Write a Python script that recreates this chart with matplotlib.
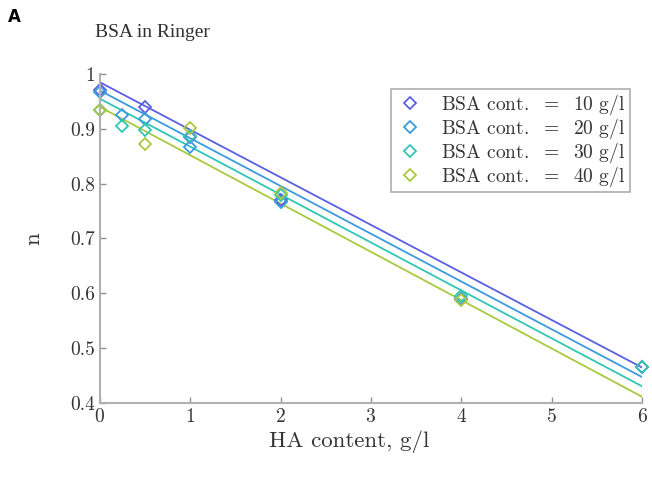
import numpy as np
from matplotlib import pyplot as plt

plt.rcParams['font.family'] = 'serif'
plt.rcParams['font.serif'] = ['cmr10', 'DejaVu Serif']
plt.rcParams['mathtext.fontset'] = 'cm'
plt.rcParams['axes.formatter.use_mathtext'] = True

# BSA concentrations (g/l) and their colours
bsa = [10, 20, 30, 40]
colors = ['#5b5fe3', '#3a9be0', '#2fc6b5', '#a9c93e']

# measured points, HA content (g/l) vs n
ha_10 = [0, 0.5, 1, 2, 4, 6]
n_10 = [0.970, 0.940, 0.885, 0.770, 0.590, 0.465]
ha_20 = [0, 0.25, 0.5, 1, 2, 4]
n_20 = [0.968, 0.925, 0.918, 0.866, 0.766, 0.590]
ha_30 = [0, 0.25, 0.5, 1, 2, 4, 6]
n_30 = [0.935, 0.905, 0.898, 0.886, 0.780, 0.595, 0.465]
ha_40 = [0, 0.5, 1, 2, 4]
n_40 = [0.935, 0.872, 0.902, 0.783, 0.587]

# fitted lines: n = a + b * HA
fit_a = [0.985, 0.970, 0.955, 0.940]
fit_b = [-0.0868, -0.0872, -0.0875, -0.0882]

xs = [ha_10, ha_20, ha_30, ha_40]
ys = [n_10, n_20, n_30, n_40]

fig = plt.figure(figsize=(6.52, 4.9), dpi=100)
ax = fig.add_axes([0.153, 0.178, 0.832, 0.671])

xl = np.array([0, 6])
for i in range(len(bsa)):
    ax.plot(xl, fit_a[i] + fit_b[i] * xl, color=colors[i], lw=1.3)
for i in range(len(bsa)):
    ax.plot(xs[i], ys[i], 'D', mfc='none', mec=colors[i], ms=6.5, mew=1.3,
            label=r"BSA cont. $\;=\;$ {} g/l".format(bsa[i]), clip_on=False)

ax.set_xlim(0, 6)
ax.set_ylim(0.4, 1)
ax.set_xticks(range(0, 7))
ax.set_yticks([0.4, 0.5, 0.6, 0.7, 0.8, 0.9, 1])
ax.set_yticklabels(["0.4", "0.5", "0.6", "0.7", "0.8", "0.9", "1"])

for s in ['top', 'right']:
    ax.spines[s].set_visible(False)
for s in ['left', 'bottom']:
    ax.spines[s].set_color('#b0b0b0')
    ax.spines[s].set_linewidth(1.5)
ax.tick_params(direction='in', length=4, color='#909090', labelcolor='#333333',
               labelsize=14, width=1)

ax.set_xlabel("HA content, g/l", fontsize=16.5, color='#333333')
ax.xaxis.set_label_coords(0.46, -0.085)
ax.set_ylabel("n", fontsize=16.5, color='#333333')
ax.yaxis.set_label_coords(-0.105, 0.5)

leg = ax.legend(loc='upper right', bbox_to_anchor=(0.995, 0.985), fontsize=14,
                frameon=True, fancybox=False, edgecolor='#999999',
                handletextpad=0.8, borderpad=0.2, labelspacing=0.0,
                handlelength=1.6)
leg.get_frame().set_linewidth(1.2)
for t in leg.get_texts():
    t.set_color('#333333')

fig.text(0.145, 0.925, "BSA in Ringer", fontsize=14, family='Liberation Serif',
         color='#303030')
fig.text(0.012, 0.955, "A", fontsize=12, family='DejaVu Sans', weight='bold')

plt.savefig("out.png", dpi=100)
